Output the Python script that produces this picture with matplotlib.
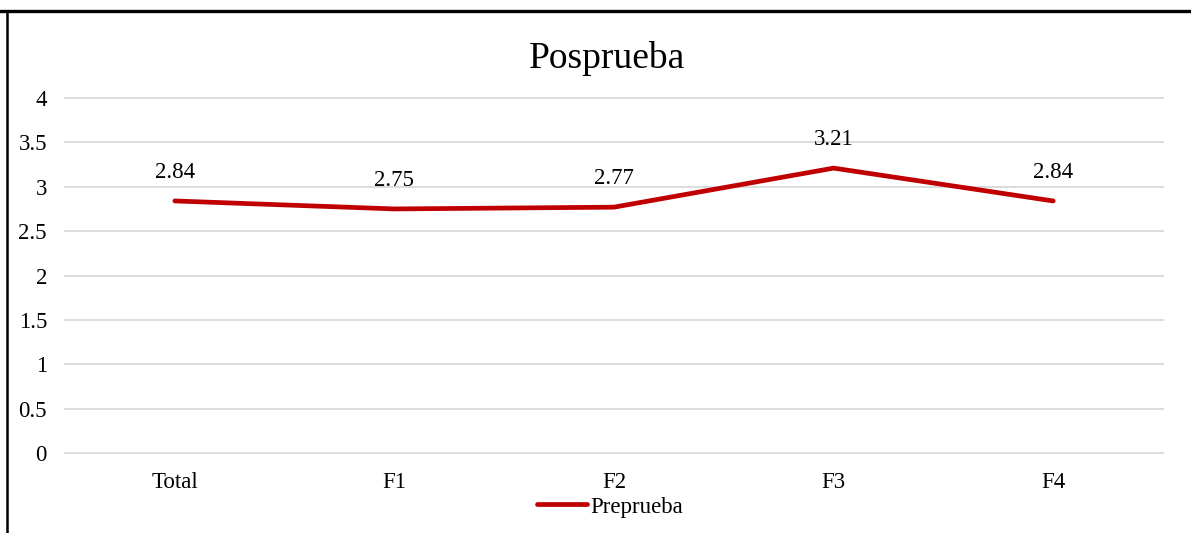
import matplotlib.pyplot as plt
from matplotlib.lines import Line2D

categories = ["Total", "F1", "F2", "F3", "F4"]
values = [2.84, 2.75, 2.77, 3.21, 2.84]
yticks = [0, 0.5, 1, 1.5, 2, 2.5, 3, 3.5, 4]
ytick_labels = ["0", "0.5", "1", "1.5", "2", "2.5", "3", "3.5", "4"]

plt.rcParams['font.family'] = ['Liberation Serif', 'DejaVu Serif']

fig = plt.figure(figsize=(11.91, 5.33), dpi=100)
ax = fig.add_axes([65 / 1191, 1 - 453 / 533, 1098 / 1191, 355 / 533])

x = list(range(len(categories)))
ax.plot(x, values, color="#C00000", linewidth=3.4, solid_capstyle="round",
        label="Preprueba")
for xi, v in zip(x, values):
    ax.annotate(f"{v:.2f}", (xi, v), xytext=(0, 13), textcoords="offset points",
                ha="center", va="bottom", fontsize=16.5)

ax.set_xlim(-0.5, 4.5)
ax.set_ylim(0, 4)
ax.set_yticks(yticks)
ax.set_yticklabels(ytick_labels)
ax.set_xticks(x)
ax.set_xticklabels(categories)
ax.tick_params(length=0, labelsize=16.5)
ax.tick_params(axis="y", pad=13)
ax.tick_params(axis="x", pad=14)
ax.yaxis.grid(True, color="#D9D9D9", linewidth=1.3)
for gl in ax.get_ygridlines():
    gl.set_clip_on(False)
ax.set_axisbelow(True)
for s in ax.spines.values():
    s.set_visible(False)

fig.text(607 / 1191, 1 - 58 / 533, "Posprueba", ha="center", va="center", fontsize=27)

fig.legend(handles=[Line2D([], [], color="#C00000", linewidth=3.4, solid_capstyle="round")],
           labels=["Preprueba"], loc="center", bbox_to_anchor=(610 / 1191, 1 - 507 / 533),
           frameon=False, fontsize=16.5, handlelength=2.2, handletextpad=0.15)

# frame lines on top and left edge
fig.add_artist(Line2D([0, 1], [1 - 11 / 533, 1 - 11 / 533], color="black", linewidth=2.4,
                      transform=fig.transFigure))
fig.add_artist(Line2D([6.5 / 1191, 6.5 / 1191], [0, 1 - 11 / 533], color="black", linewidth=1.8,
                      transform=fig.transFigure))

fig.savefig("out.png", dpi=100)
